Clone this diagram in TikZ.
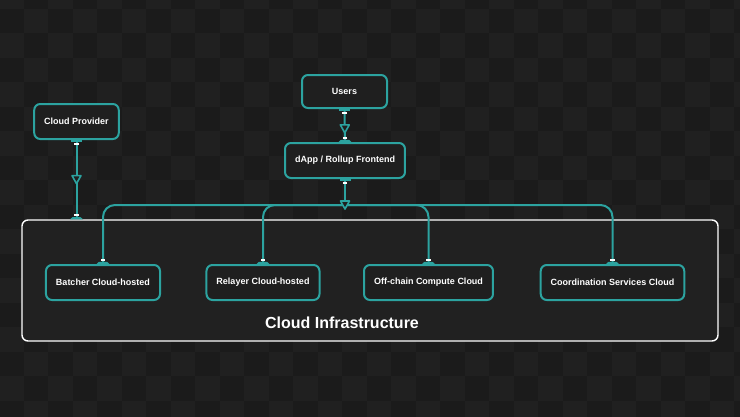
\documentclass[tikz,border=0pt]{standalone}
\usepackage{fontspec}
\setmainfont{Liberation Sans}
\usetikzlibrary{positioning,calc}
\definecolor{BgDark}{HTML}{1B1B1B}
\definecolor{BgLight}{HTML}{202020}
\definecolor{BoxFill}{HTML}{1F1F1F}
\definecolor{InfraFill}{HTML}{212121}
\definecolor{Teal}{HTML}{2CA3A0}
\tikzset{
  svc/.style={rectangle,draw=Teal,line width=2pt,rounded corners=6pt,
    fill=BoxFill,text=white,font=\bfseries\fontsize{9}{11}\selectfont,
    inner xsep=10pt,minimum height=35pt},
  infrabox/.style={rectangle,draw=white,line width=1.4pt,rounded corners=6pt,
    fill=InfraFill,minimum width=696pt,minimum height=121pt},
  flow/.style={draw=Teal,line width=2pt},
}
% markers on the vertical connectors (y grows downwards)
\newcommand{\tailmark}[1]{%
  \fill[Teal] ($#1+(-5.5,0)$) rectangle ($#1+(5.5,1.8)$);
  \fill[white] ($#1+(-2.2,2.8)$) rectangle ($#1+(2.2,4.8)$);}
\newcommand{\capmark}[1]{%
  \fill[Teal] ($#1+(-6.5,0)$) -- ($#1+(-4,-2.2)$) -- ($#1+(4,-2.2)$) -- ($#1+(6.5,0)$) -- cycle;
  \fill[white] ($#1+(-2.2,-3)$) rectangle ($#1+(2.2,-5)$);}
\newcommand{\tritip}[1]{%
  \draw[Teal,line width=1.6pt,fill=BoxFill,line join=round]
    ($#1+(0,4)$) -- ($#1+(-4.5,-4)$) -- ($#1+(4.5,-4)$) -- cycle;}
\begin{document}
\begin{tikzpicture}[x=1pt,y=-1pt]
  \useasboundingbox (0,0) rectangle (740,416);
  % background
  \begin{scope}
    \clip (-3,-3) rectangle (743,419);
    \fill[BgDark] (-3,-3) rectangle (743,419);
    \foreach \i in {0,...,30}{
      \foreach \j in {0,...,17}{
        \pgfmathtruncatemacro{\odd}{mod(\i+\j,2)}
        \ifnum\odd=0
          \fill[BgLight] ({\i*24.5-1},{\j*24.5-16}) rectangle +(24.5,24.5);
        \fi
      }
    }
  \end{scope}

  % container
  \node[infrabox] (infra) at (370,280.5) {};
  \node[text=white,font=\bfseries\fontsize{16}{19}\selectfont] (infralbl) at (342,323) {Cloud Infrastructure};

  % nodes
  \node[svc,minimum height=33pt,minimum width=85pt] (users) at (344.5,91.5) {Users};
  \node[svc] (cloudprov) at (76.5,121.5) {Cloud Provider};
  \node[svc] (dapp) at (345,160.5) {dApp / Rollup Frontend};
  \node[svc] (batcher) at (103,282.5) {Batcher Cloud-hosted};
  \node[svc] (relayer) at (263,282.5) {Relayer Cloud-hosted};
  \node[svc] (offchain) at (428.5,282.5) {Off-chain Compute Cloud};
  \node[svc] (coord) at (612.5,282.5) {Coordination Services Cloud};

  \coordinate (hub) at (dapp.south |- 0,205);
  \coordinate (cpend) at (cloudprov.south |- infra.north);

  % connectors
  \draw[flow] (users.south) -- (dapp.north);
  \draw[flow] (cloudprov.south) -- (cpend);
  \draw[flow] (dapp.south) -- (hub);
  \foreach \dst in {batcher,relayer,offchain,coord}{
    \draw[flow,rounded corners=12pt] (hub) -| (\dst.north);
    \capmark{(\dst.north)}
  }

  % markers
  \tailmark{(users.south)}
  \tritip{($(users.south)!0.6!(dapp.north)$)}
  \capmark{(dapp.north)}
  \tailmark{(cloudprov.south)}
  \tritip{($(cloudprov.south)!0.5!(cpend)$)}
  \capmark{(cpend)}
  \tailmark{(dapp.south)}
  \tritip{(hub)}
\end{tikzpicture}
\end{document}
